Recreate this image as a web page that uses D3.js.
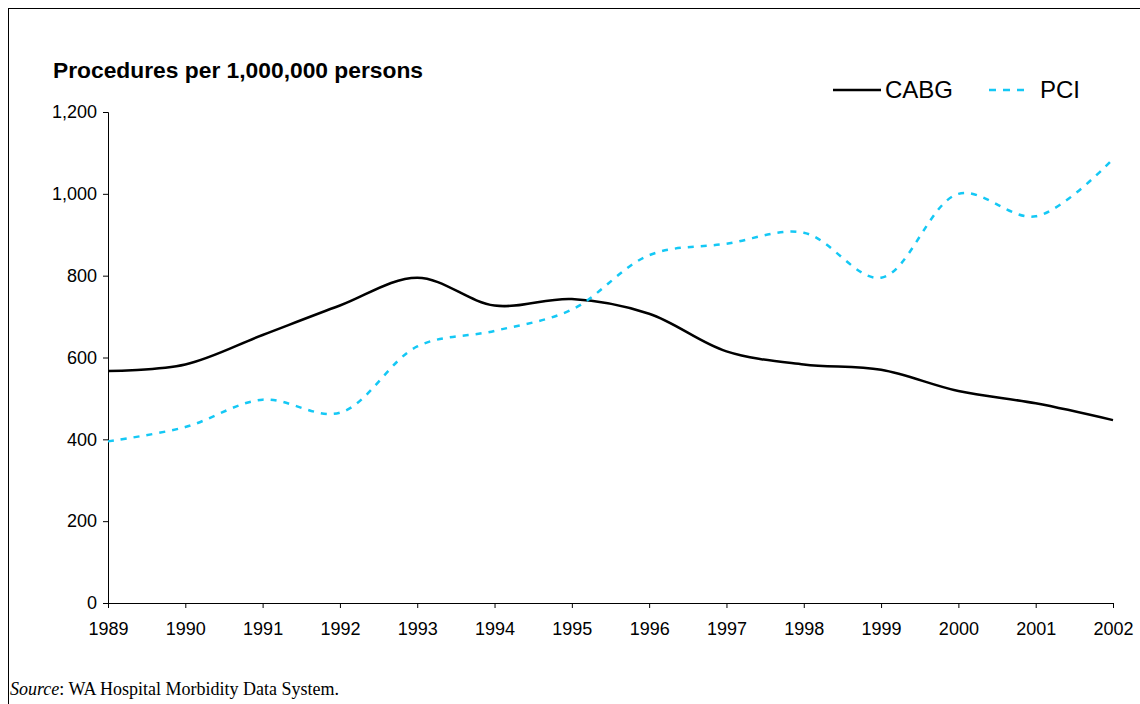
<!DOCTYPE html>
<html>
<head>
<style> body { margin: 0; background: #fff; } </style>
<script src="https://d3js.org/d3.v7.min.js"></script>
</head>
<body>
<svg id="chart" width="1140" height="704"></svg>
<script>
var years = [1989, 1990, 1991, 1992, 1993, 1994, 1995, 1996, 1997, 1998, 1999, 2000, 2001, 2002]
var cabg = [567, 583, 655, 727, 795, 727, 743, 707, 615, 583, 570, 518, 488, 447]
var pci = [395, 430, 497, 465, 627, 665, 717, 850, 878, 905, 795, 1000, 945, 1085]
var yTicks = [0, 200, 400, 600, 800, 1000, 1200]

const svg = d3.select('#chart')
svg.append("rect").attr("x", 8.5).attr("y", 8.5).attr("width", 1140).attr("height", 700)
    .attr("fill", "none").attr("stroke", "#000")

let x = d3.scaleLinear().domain([1989, 2002]).range([108, 1113])
let y = d3.scaleLinear().domain([0, 1200]).range([603, 112])

var yAxis = svg.append("g").attr("transform", "translate(108,0)")
    .call(d3.axisLeft(y).tickValues(yTicks).tickFormat(d3.format(",")).tickSizeOuter(0).tickSize(5).tickPadding(6))
var xAxis = svg.append("g").attr("transform", "translate(0,603)")
    .call(d3.axisBottom(x).tickValues(years).tickFormat(d3.format("d")).tickSizeOuter(0).tickSize(5).tickPadding(14))
svg.selectAll(".tick text").style("font-family", "Liberation Sans, Arial").style("font-size", "18px").attr("fill", "#000")
svg.selectAll(".domain, .tick line").attr("stroke", "#000")

const cyan = "#14c8f5"
let line = d3.line().x((d, i) => x(years[i])).y(d => y(d)).curve(d3.curveCatmullRom.alpha(0.5))
svg.append("path").datum(cabg).attr("d", line).attr("fill", "none").attr("stroke", "#000").attr("stroke-width", 2.5)
svg.append("path").datum(pci).attr("d", line).attr("fill", "none").attr("stroke", cyan)
    .attr("stroke-width", 2.5).attr("stroke-dasharray", "6,7")

svg.append("text").attr("x", 53).attr("y", 78).text("Procedures per 1,000,000 persons")
    .style("font-family", "Liberation Sans, Arial").style("font-size", "22.8px").style("font-weight", "bold")

// legend
svg.append("line").attr("x1", 833).attr("x2", 881).attr("y1", 90).attr("y2", 90).attr("stroke", "#000").attr("stroke-width", 2.5)
svg.append("text").attr("x", 885).attr("y", 98).text("CABG").style("font-family", "Liberation Sans, Arial").style("font-size", "24px")
svg.append("line").attr("x1", 989).attr("x2", 1031).attr("y1", 90).attr("y2", 90).attr("stroke", cyan)
    .attr("stroke-width", 2.5).attr("stroke-dasharray", "7,7")
svg.append("text").attr("x", 1040).attr("y", 98).text("PCI").style("font-family", "Liberation Sans, Arial").style("font-size", "24px")

var src = svg.append("text").attr("x", 10).attr("y", 695).style("font-family", "Liberation Serif, Times New Roman").style("font-size", "18px")
src.append("tspan").style("font-style", "italic").text("Source")
src.append("tspan").text(":  WA Hospital Morbidity Data System.")
</script>
</body>
</html>
